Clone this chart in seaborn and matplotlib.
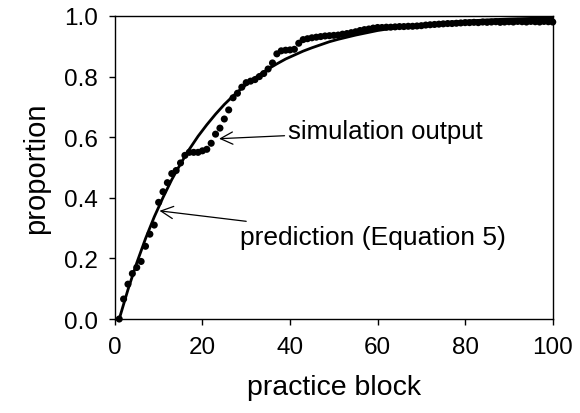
import matplotlib
matplotlib.use("Agg")
import matplotlib.pyplot as plt
import seaborn as sns
import pandas as pd

# Simulation output: proportion per practice block (blocks 1..100)
blocks = list(range(1, 101))
simulation = [
    0.000, 0.066, 0.115, 0.150, 0.170, 0.190, 0.240, 0.280, 0.310, 0.385,
    0.420, 0.450, 0.480, 0.490, 0.515, 0.540, 0.550, 0.550, 0.550, 0.555,
    0.560, 0.580, 0.610, 0.630, 0.660, 0.690, 0.730, 0.745, 0.765, 0.780,
    0.785, 0.790, 0.800, 0.810, 0.825, 0.845, 0.875, 0.885, 0.887, 0.888,
    0.890, 0.910, 0.922, 0.925, 0.928, 0.930, 0.932, 0.934, 0.935, 0.936,
    0.937, 0.940, 0.942, 0.945, 0.948, 0.952, 0.955, 0.957, 0.960, 0.962,
    0.962, 0.963, 0.963, 0.964, 0.965, 0.965, 0.966, 0.966, 0.967, 0.968,
    0.970, 0.971, 0.972, 0.973, 0.974, 0.975, 0.975, 0.976, 0.977, 0.978,
    0.978, 0.979, 0.978, 0.980, 0.979, 0.980, 0.981, 0.979, 0.980, 0.981,
    0.980, 0.982, 0.981, 0.980, 0.982, 0.981, 0.980, 0.982, 0.981, 0.980,
]

# Prediction curve (Equation 5)
pred_blocks = [1, 3, 5, 7, 9, 11, 13, 15, 17, 19, 21, 23, 25, 27, 29, 31, 33,
               35, 37, 39, 41, 43, 45, 47, 49, 51, 55, 60, 65, 70, 75, 80, 85,
               90, 95, 100]
prediction = [0.000, 0.097, 0.185, 0.265, 0.337, 0.401, 0.460, 0.512, 0.560,
              0.603, 0.641, 0.676, 0.708, 0.736, 0.762, 0.785, 0.806, 0.825,
              0.842, 0.858, 0.871, 0.884, 0.895, 0.905, 0.915, 0.923, 0.937,
              0.952, 0.963, 0.971, 0.978, 0.983, 0.987, 0.990, 0.992, 0.994]

x_ticks = [0, 20, 40, 60, 80, 100]
y_ticks = [0.0, 0.2, 0.4, 0.6, 0.8, 1.0]

sns.set_style("ticks")
plt.rcParams["font.family"] = ["Liberation Sans", "DejaVu Sans"]

sim_df = pd.DataFrame({"block": blocks, "proportion": simulation})
pred_df = pd.DataFrame({"block": pred_blocks, "proportion": prediction})

fig = plt.figure(figsize=(5.8, 4.14), dpi=100)
ax = fig.add_axes([0.198, 0.227, 0.755, 0.732])

sns.lineplot(data=pred_df, x="block", y="proportion", ax=ax,
             color="black", linewidth=2.0, zorder=2)
sns.scatterplot(data=sim_df, x="block", y="proportion", ax=ax,
                color="black", s=26, edgecolor="none", zorder=3,
                clip_on=False)

ax.set_xlim(0, 100)
ax.set_ylim(0, 1.0)
ax.set_xticks(x_ticks)
ax.set_yticks(y_ticks)
ax.set_xticklabels([str(t) for t in x_ticks])
ax.set_yticklabels([f"{t:.1f}" for t in y_ticks])
ax.tick_params(axis="both", direction="out", length=4, width=1,
               labelsize=17.5, pad=8, color="black", labelcolor="black")

for side in ["top", "right", "left", "bottom"]:
    ax.spines[side].set_visible(True)
    ax.spines[side].set_color("black")
    ax.spines[side].set_linewidth(1.0)

ax.set_xlabel("practice block", fontsize=20.5, labelpad=12, color="black")
ax.set_ylabel("proportion", fontsize=21, labelpad=10, color="black")

arrow = dict(arrowstyle="->", color="black", lw=0.9,
             shrinkA=0, shrinkB=0, mutation_scale=22)
ax.annotate("simulation output", xy=(23.8, 0.595), xytext=(39.5, 0.62),
            fontsize=18.5, va="center", ha="left", arrowprops=arrow,
            color="black")
ax.annotate("prediction (Equation 5)", xy=(10.2, 0.357), xytext=(28.5, 0.272),
            fontsize=19, va="center", ha="left", arrowprops=arrow,
            color="black")

fig.savefig("out.png", dpi=100, facecolor="white")
